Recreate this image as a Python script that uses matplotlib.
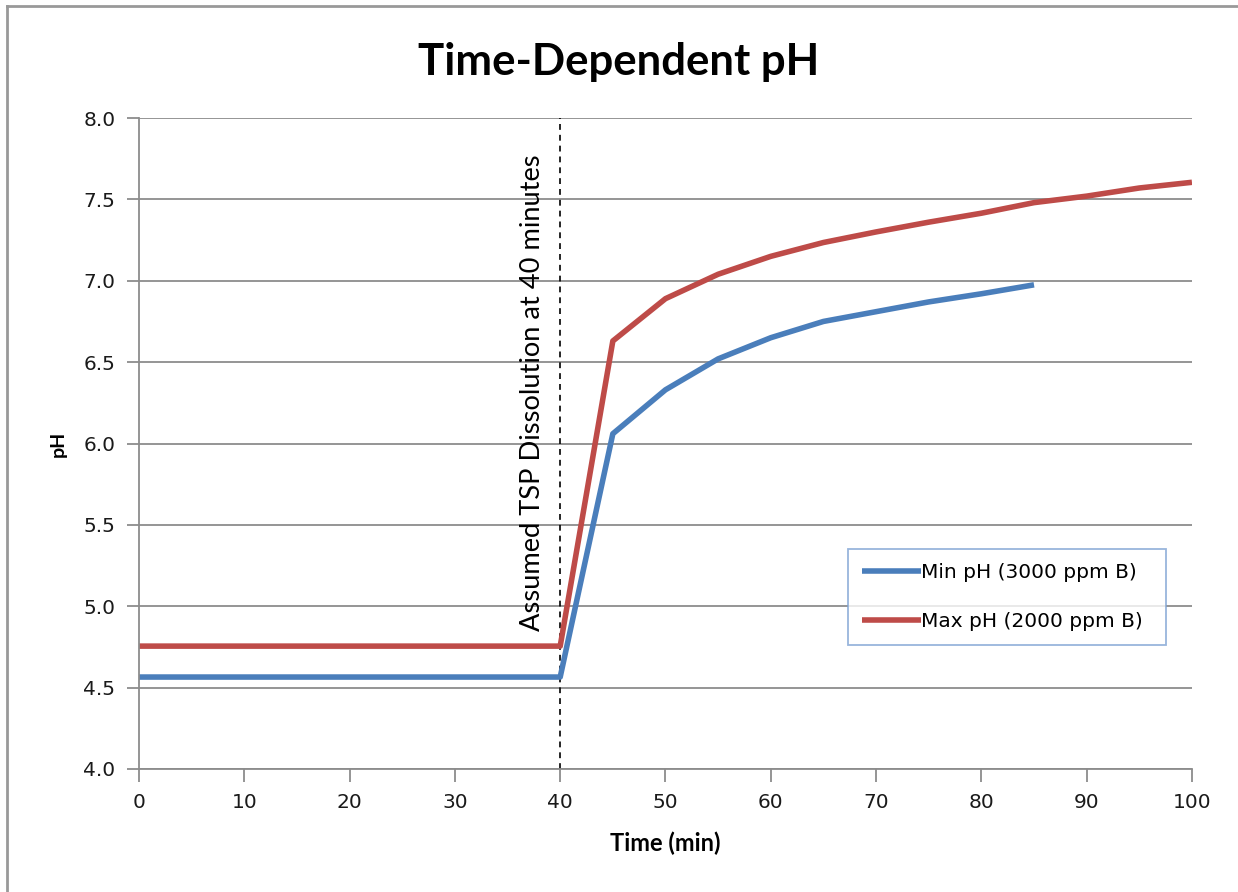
import matplotlib.pyplot as plt
from matplotlib.lines import Line2D

# Datos de pH en función del tiempo
time_min = [0, 5, 10, 15, 20, 25, 30, 35, 40, 45, 50, 55, 60, 65, 70, 75, 80, 85]
ph_min = [4.565, 4.565, 4.565, 4.565, 4.565, 4.565, 4.565, 4.565, 4.565,
          6.06, 6.33, 6.52, 6.65, 6.75, 6.81, 6.87, 6.92, 6.975]

time_max = [0, 5, 10, 15, 20, 25, 30, 35, 40, 45, 50, 55, 60, 65, 70, 75, 80,
            85, 90, 95, 100]
ph_max = [4.755, 4.755, 4.755, 4.755, 4.755, 4.755, 4.755, 4.755, 4.755,
          6.63, 6.89, 7.04, 7.15, 7.235, 7.30, 7.36, 7.415, 7.48, 7.52, 7.57, 7.605]

x_ticks = [0, 10, 20, 30, 40, 50, 60, 70, 80, 90, 100]
y_ticks = [4.0, 4.5, 5.0, 5.5, 6.0, 6.5, 7.0, 7.5, 8.0]
dissolution_time = 40

fig = plt.figure(figsize=(12.38, 8.92), dpi=100)
ax = fig.add_axes([0.1123, 0.1379, 0.8505, 0.7298])

gray = '#8c8c8c'
ax.set_xlim(0, 100)
ax.set_ylim(4.0, 8.0)
ax.set_xticks(x_ticks)
ax.set_yticks(y_ticks)
ax.set_yticklabels([f"{v:.1f}" for v in y_ticks])
ax.yaxis.grid(True, color=gray, linewidth=1.3)
ax.set_axisbelow(True)
for s in ['top', 'right']:
    ax.spines[s].set_visible(False)
for s in ['left', 'bottom']:
    ax.spines[s].set_color(gray)
    ax.spines[s].set_linewidth(1.3)
ax.tick_params(axis='both', length=9, width=1.3, color=gray,
               labelsize=14.5, labelcolor='#1a1a1a', pad=8)

# Línea vertical de disolución
ax.axvline(dissolution_time, color='black', linestyle=(0, (3.5, 3)), linewidth=1.2)
ax.text(37.4, 4.85, "Assumed TSP Dissolution at 40 minutes", rotation=90,
        ha='center', va='bottom', fontsize=19.6, family='Lato', color='black')

ax.plot(time_min, ph_min, color='#4a7ebb', linewidth=4, label='Min pH (3000 ppm B)',
        solid_capstyle='butt')
ax.plot(time_max, ph_max, color='#be4b48', linewidth=4, label='Max pH (2000 ppm B)',
        solid_capstyle='butt')

leg = ax.legend(loc='lower left', bbox_to_anchor=(0.6735, 0.1905, 0.3015, 0.1505),
                mode='expand', fontsize=14.5, frameon=True, fancybox=False,
                handlelength=2.9, handletextpad=0.0, borderpad=0.7,
                labelspacing=1.5, borderaxespad=0)
leg.get_frame().set_edgecolor('#7fa3d3')
leg.get_frame().set_linewidth(1.3)

fig.suptitle("Time-Dependent pH", x=0.5, y=0.953, fontsize=31.5,
             fontweight='bold', family='Lato')
ax.set_xlabel("Time (min)", fontsize=17, fontweight='bold', family='Lato', labelpad=14)
ax.set_ylabel("pH", fontsize=14, fontweight='bold', family='Lato', labelpad=12)

# Marco exterior del gráfico
fig.add_artist(Line2D([0.0055, 1.0], [0.9935, 0.9935], color='#999999', linewidth=2,
                      transform=fig.transFigure))
fig.add_artist(Line2D([0.0055, 0.0055], [0.0, 0.9935], color='#999999', linewidth=2,
                      transform=fig.transFigure))

fig.savefig('out.png', dpi=100)
